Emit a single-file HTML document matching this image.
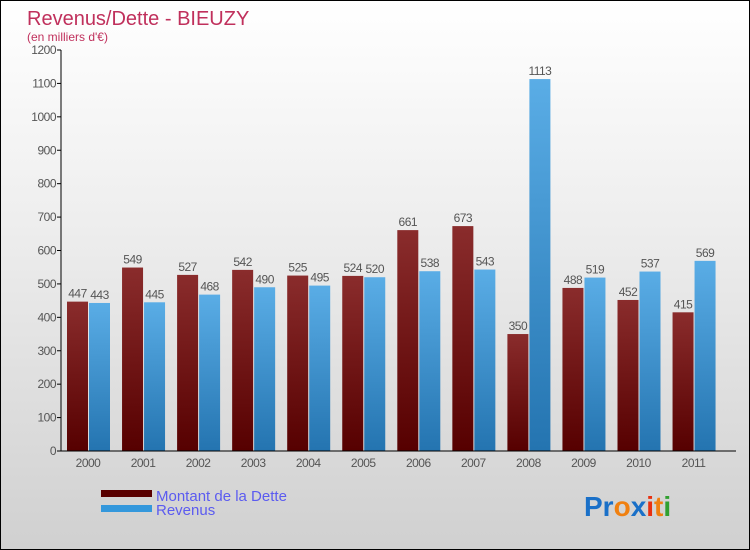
<!DOCTYPE html>
<html><head><meta charset="utf-8"><style>
body{margin:0}
#c{width:750px;height:550px;position:relative;box-sizing:border-box;border:1px solid #000;background:linear-gradient(#fff 0%,#eee 40%,#d0d0d0 100%);font-family:"Liberation Sans",sans-serif;overflow:hidden}
</style></head><body>
<div id="c">
<svg width="750" height="550" id="s" style="position:absolute;left:0;top:0">
<defs>
<linearGradient id="gd" x1="0" y1="0" x2="0" y2="1"><stop offset="0" stop-color="#8a2c2c"/><stop offset="1" stop-color="#560000"/></linearGradient>
<linearGradient id="gr" x1="0" y1="0" x2="0" y2="1"><stop offset="0" stop-color="#5aade6"/><stop offset="1" stop-color="#2474b0"/></linearGradient>
</defs>
<text x="26" y="24" font-size="20" fill="#c0305c">Revenus/Dette - BIEUZY</text>
<text x="26" y="40" font-size="12" fill="#c0305c">(en milliers d'€)</text>
<g id="plot"></g>
<rect x="100" y="489" width="51" height="7" fill="#5a0000"/>
<rect x="100" y="504" width="51" height="7" fill="#3498dc"/>
<text x="155" y="500" font-size="15" fill="#5b5bf0">Montant de la Dette</text>
<text x="155" y="514" font-size="15" fill="#5b5bf0">Revenus</text>
<text x="583" y="515" font-size="28" font-weight="bold"><tspan fill="#1a70c8">Pr</tspan><tspan fill="#f08010">o</tspan><tspan fill="#1a70c8">x</tspan><tspan fill="#e83010">i</tspan><tspan fill="#f08010">t</tspan><tspan fill="#30a030">i</tspan></text>
</svg>
</div>
<script>
const years=["2000","2001","2002","2003","2004","2005","2006","2007","2008","2009","2010","2011"];
const dette=[447,549,527,542,525,524,661,673,350,488,452,415];
const revenus=[443,445,468,490,495,520,538,543,1113,519,537,569];
const ticks=[0,100,200,300,400,500,600,700,800,900,1000,1100,1200];
const NS="http://www.w3.org/2000/svg";
const g=document.getElementById('plot');
const y0=450,ppu=401/1200;
const Y=v=>y0-v*ppu;
const X=i=>87+i*55.05;
function el(t,a){const e=document.createElementNS(NS,t);for(const k in a)e.setAttribute(k,a[k]);g.appendChild(e);return e;}
ticks.forEach(t=>{
 const l=el('line',{x1:56,x2:60,y1:Y(t),y2:Y(t),stroke:'#000'});
 
 
 const tx=el('text',{x:55,y:Y(t)+4,'font-size':12,fill:'#555','text-anchor':'end','letter-spacing':'-0.5'});
 tx.textContent=t;
 
 
});
years.forEach((yr,i)=>{
 const c=X(i);
 const b1=el('rect',{x:c-21,y:Y(dette[i]),width:21,height:dette[i]*ppu,fill:'url(#gd)'});
 
 
 const b2=el('rect',{x:c+1,y:Y(revenus[i]),width:21,height:revenus[i]*ppu,fill:'url(#gr)'});
 
 
 const t1=el('text',{x:c-10.5,y:Y(dette[i])-4,'font-size':12,fill:'#555','text-anchor':'middle','letter-spacing':'-0.5'});
 t1.textContent=dette[i];
 
 
 const t2=el('text',{x:c+11.5,y:Y(revenus[i])-4,'font-size':12,fill:'#555','text-anchor':'middle','letter-spacing':'-0.5'});
 t2.textContent=revenus[i];
 
 
 const xl=el('text',{x:c,y:466,'font-size':12,fill:'#555','text-anchor':'middle','letter-spacing':'-0.5'});
 xl.textContent=yr;
 
 
});
const ya=el('line',{x1:60,x2:60,y1:49,y2:450,stroke:'#000'});


const xa=el('line',{x1:60,x2:735,y1:450,y2:450,stroke:'#000'});


</script>
</body></html>
